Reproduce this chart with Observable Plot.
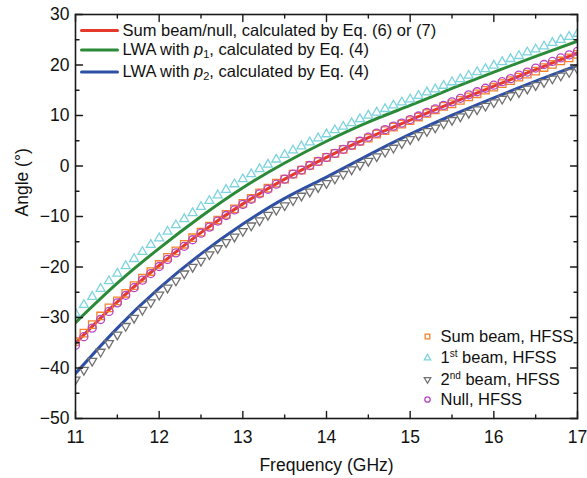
<!DOCTYPE html>
<html><head><meta charset="utf-8">
<script src="https://cdn.jsdelivr.net/npm/d3@7"></script>
<script src="https://cdn.jsdelivr.net/npm/@observablehq/plot@0.6"></script>
<style>body{margin:0;background:#fff;}</style>
</head><body><div id="chart"></div>
<script>
// ---- calculated curves (every 0.5 GHz) ----
const fLine = [11, 11.5, 12, 12.5, 13, 13.5, 14, 14.5, 15, 15.5, 16, 16.5, 17];
const sumCalc = [-35.1, -26.9, -19.7, -13.2, -7.5, -2.6, 1.7, 5.6, 9.1, 12.5, 15.8, 19.1, 22.4];
const lwaP1 = [-31.0, -23.2, -16.3, -10.0, -4.3, 0.6, 4.9, 8.7, 12.0, 15.35, 18.6, 21.7, 24.7];
const lwaP2 = [-41.1, -32.1, -24.2, -17.4, -11.5, -6.4, -2.2, 2.15, 6.3, 10.05, 13.5, 16.8, 19.9];

// ---- HFSS markers (every 0.1 GHz) ----
const fHfss = [11.0,11.1,11.2,11.3,11.4,11.5,11.6,11.7,11.8,11.9,
  12.0,12.1,12.2,12.3,12.4,12.5,12.6,12.7,12.8,12.9,
  13.0,13.1,13.2,13.3,13.4,13.5,13.6,13.7,13.8,13.9,
  14.0,14.1,14.2,14.3,14.4,14.5,14.6,14.7,14.8,14.9,
  15.0,15.1,15.2,15.3,15.4,15.5,15.6,15.7,15.8,15.9,
  16.0,16.1,16.2,16.3,16.4,16.5,16.6,16.7,16.8,16.9,17.0];
const sumHfss = [-34.8,-33.1,-31.4,-29.7,-28.1,-26.7,-25.2,-23.7,-22.2,-20.9,
  -19.5,-18.1,-16.8,-15.5,-14.2,-13.1,-11.9,-10.7,-9.6,-8.5,
  -7.4,-6.4,-5.3,-4.4,-3.4,-2.6,-1.6,-0.8,0.1,0.9,
  1.7,2.5,3.3,4.1,4.9,5.5,6.3,7.0,7.7,8.3,
  9.0,9.7,10.4,11.1,11.8,12.3,13.0,13.7,14.3,15.0,
  15.6,16.3,16.9,17.6,18.2,18.8,19.5,20.1,20.8,21.4,22.1];
const beam1Hfss = [-29.2,-27.5,-25.9,-24.3,-22.8,-21.3,-19.8,-18.4,-17.0,-15.6,
  -14.3,-13.0,-11.7,-10.5,-9.3,-8.1,-6.9,-5.8,-4.7,-3.6,
  -2.6,-1.6,-0.6,0.3,1.3,2.2,3.1,3.9,4.7,5.5,
  6.3,7.1,7.8,8.5,9.3,10.0,10.6,11.3,12.0,12.6,
  13.2,13.9,14.6,15.2,15.9,16.6,17.2,17.9,18.6,19.2,
  19.9,20.6,21.2,21.8,22.5,23.1,23.7,24.4,25.0,25.6,26.2];
const beam2Hfss = [-42.3,-40.4,-38.6,-36.8,-35.1,-33.4,-31.7,-30.1,-28.5,-27.0,
  -25.5,-24.1,-22.7,-21.3,-20.0,-18.8,-17.5,-16.3,-15.1,-14.0,
  -12.9,-11.8,-10.8,-9.7,-8.7,-7.8,-6.8,-5.9,-5.1,-4.2,
  -3.4,-2.5,-1.6,-0.7,0.2,1.0,1.9,2.8,3.6,4.5,
  5.3,6.1,6.9,7.6,8.4,9.1,9.8,10.5,11.2,11.9,
  12.6,13.3,14.0,14.6,15.3,16.0,16.6,17.3,17.9,18.6,19.2];
const nullHfss = [-35.5,-33.8,-32.1,-30.4,-28.8,-27.1,-25.6,-24.1,-22.6,-21.3,
  -19.9,-18.5,-17.2,-15.9,-14.6,-13.3,-12.1,-10.9,-9.8,-8.7,
  -7.6,-6.6,-5.5,-4.6,-3.6,-2.6,-1.6,-0.8,0.1,0.9,
  1.7,2.5,3.3,4.1,4.9,5.7,6.5,7.2,7.9,8.5,
  9.2,9.9,10.6,11.3,12.0,12.7,13.4,14.1,14.7,15.4,
  16.0,16.7,17.3,18.0,18.6,19.4,20.1,20.7,21.4,22.0,22.7];

// ---- ticks ----
const xTicks = [11, 12, 13, 14, 15, 16, 17];
const xMinor = [11.5, 12.5, 13.5, 14.5, 15.5, 16.5];
const yTicks = [-50, -40, -30, -20, -10, 0, 10, 20, 30];
const yMinor = [-45, -35, -25, -15, -5, 5, 15, 25];

// ---- legend labels ----
const lineLabels = ["Sum beam/null, calculated by Eq. (6) or (7)",
  "LWA with p1, calculated by Eq. (4)", "LWA with p2, calculated by Eq. (4)"];
const markLabels = ["Sum beam, HFSS", "1st beam, HFSS", "2nd beam, HFSS", "Null, HFSS"];

const C = {red: "#e4392b", green: "#2b8a37", blue: "#2e4fa6",
  orange: "#f5812c", cyan: "#7dd3de", gray: "#707070", purple: "#b845c4"};

const lineRows = fLine.map((f, i) => ({f, sum: sumCalc[i], p1: lwaP1[i], p2: lwaP2[i]}));
const dotRows = fHfss.map((f, i) => ({f, sum: sumHfss[i], b1: beam1Hfss[i], b2: beam2Hfss[i], nul: nullHfss[i]}));

const tickShape = {draw(ctx, l) { ctx.moveTo(0, 0); ctx.lineTo(0, -l); }};
const ink = "#1a1a1a";
function ticksX(data, len, anchor, rot) {
  return Plot.vector(data, {x: d => d, frameAnchor: anchor, rotate: rot, length: len, anchor: "start",
    shape: tickShape, stroke: ink, strokeWidth: 1.4});
}
function ticksY(data, len, anchor, rot) {
  return Plot.vector(data, {y: d => d, frameAnchor: anchor, rotate: rot, length: len, anchor: "start",
    shape: tickShape, stroke: ink, strokeWidth: 1.4});
}

const legLineColors = [C.red, C.green, C.blue];
const legLineDy = [16, 35.5, 57.5];
const legMarks = [];
lineLabels.forEach((lab, i) => {
  legMarks.push(Plot.vector([0], {frameAnchor: "top-left", dx: 6, dy: legLineDy[i], rotate: 90, length: 36,
    anchor: "start", shape: tickShape, stroke: legLineColors[i], strokeWidth: 3}));
  legMarks.push(Plot.text([lab], {text: d => d, frameAnchor: "top-left", dx: 47, dy: legLineDy[i],
    textAnchor: "start", lineAnchor: "middle", fontSize: 16.5, fill: "#111"}));
});
const legSym = [
  {symbol: "square", stroke: C.orange, r: 2.6, rotate: 0},
  {symbol: "triangle", stroke: C.cyan, r: 2.4, rotate: 0},
  {symbol: "triangle", stroke: C.gray, r: 2.4, rotate: 180},
  {symbol: "circle", stroke: C.purple, r: 2.7, rotate: 0}];
const legMarkDy = [322, 343.5, 365, 385];
markLabels.forEach((lab, i) => {
  const s = legSym[i];
  legMarks.push(Plot.dot([0], {frameAnchor: "top-left", dx: 352, dy: legMarkDy[i], symbol: s.symbol,
    r: s.r, rotate: s.rotate, stroke: s.stroke, fill: "none", strokeWidth: 1.3}));
  legMarks.push(Plot.text([lab], {text: d => d, frameAnchor: "top-left", dx: 365, dy: legMarkDy[i],
    textAnchor: "start", lineAnchor: "middle", fontSize: 16.5, fill: "#111"}));
});

const svg = Plot.plot({
  width: 587, height: 478,
  marginLeft: 75, marginRight: 10, marginTop: 14, marginBottom: 60,
  style: {fontFamily: "'Liberation Sans', Arial, sans-serif", background: "#fff", color: "#111"},
  x: {domain: [11, 17]},
  y: {domain: [-50, 30]},
  marks: [
    Plot.axisX({ticks: xTicks, tickSize: 0, tickPadding: 12, fontSize: 17.5, label: null, tickFormat: d => String(d)}),
    Plot.axisY({ticks: yTicks, tickSize: 0, tickPadding: 6, fontSize: 17.5, label: null}),
    Plot.text(["Frequency (GHz)"], {text: d => d, frameAnchor: "bottom", dy: 47, fontSize: 17.5, lineAnchor: "middle"}),
    Plot.text(["Angle (°)"], {text: d => d, frameAnchor: "left", dx: -53, rotate: -90, fontSize: 17.5, lineAnchor: "middle"}),
    Plot.line(lineRows, {x: "f", y: "p1", stroke: C.green, strokeWidth: 3, curve: "natural", clip: true}),
    Plot.line(lineRows, {x: "f", y: "p2", stroke: C.blue, strokeWidth: 3, curve: "natural", clip: true}),
    Plot.line(lineRows, {x: "f", y: "sum", stroke: C.red, strokeWidth: 3, curve: "natural", clip: true}),
    Plot.dot(dotRows, {x: "f", y: "sum", symbol: "square", r: 4.2, stroke: C.orange, fill: "none", strokeWidth: 1.3, clip: true}),
    Plot.dot(dotRows, {x: "f", y: "b1", symbol: "triangle", r: 3.3, stroke: C.cyan, fill: "none", strokeWidth: 1.3, clip: true}),
    Plot.dot(dotRows, {x: "f", y: "b2", symbol: "triangle", rotate: 180, r: 3.3, stroke: C.gray, fill: "none", strokeWidth: 1.3, clip: true}),
    Plot.dot(dotRows, {x: "f", y: "nul", symbol: "circle", r: 4, stroke: C.purple, fill: "none", strokeWidth: 1.3, clip: true}),
    ticksX(xTicks, 7, "bottom", 0), ticksX(xMinor, 3.5, "bottom", 0),
    ticksX(xTicks, 7, "top", 180), ticksX(xMinor, 3.5, "top", 180),
    ticksY(yTicks, 7, "left", 90), ticksY(yMinor, 3.5, "left", 90),
    ticksY(yTicks, 7, "right", -90), ticksY(yMinor, 3.5, "right", -90),
    Plot.frame({stroke: ink, strokeWidth: 1.6}),
    ...legMarks
  ]
});
document.getElementById("chart").appendChild(svg);

// rich text (italic p, subscripts, superscripts)
function rich(full, parts) {
  d3.select(svg).selectAll("text").filter(function () { return this.textContent === full; }).each(function () {
    const t = d3.select(this);
    t.text(null);
    for (const p of parts) {
      const s = t.append("tspan").text(p.t);
      if (p.i) s.attr("font-style", "italic");
      if (p.sub) s.attr("baseline-shift", "-3px").attr("font-size", "11px");
      if (p.sup) s.attr("baseline-shift", "6px").attr("font-size", "10px");
    }
  });
}
rich(lineLabels[1], [{t: "LWA with "}, {t: "p", i: true}, {t: "1", sub: true}, {t: ", calculated by Eq. (4)"}]);
rich(lineLabels[2], [{t: "LWA with "}, {t: "p", i: true}, {t: "2", sub: true}, {t: ", calculated by Eq. (4)"}]);
rich(markLabels[1], [{t: "1"}, {t: "st", sup: true}, {t: " beam, HFSS"}]);
rich(markLabels[2], [{t: "2"}, {t: "nd", sup: true}, {t: " beam, HFSS"}]);
</script>
</body></html>
